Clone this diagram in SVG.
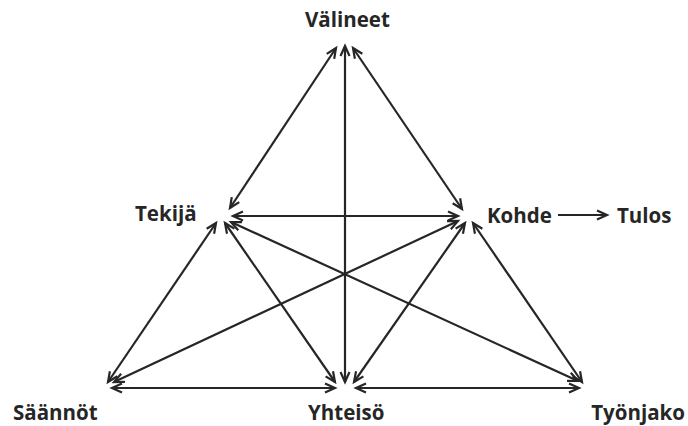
<svg xmlns="http://www.w3.org/2000/svg" width="688" height="426" viewBox="0 0 688 426">
<style>
.lbl{font-family:"Open Sans","DejaVu Sans",sans-serif;font-weight:bold;font-size:20.5px;fill:#262626}
.c line{stroke:#262626;stroke-width:2.2;fill:none;marker-start:url(#ah);marker-end:url(#ah)}
.c line.one{marker-start:none}
</style>
<defs>
<marker id="ah" markerUnits="userSpaceOnUse" markerWidth="16" markerHeight="16" viewBox="-12 -8 16 16" refX="0" refY="0" orient="auto-start-reverse">
<path d="M-10,-4.5 L0,0 L-10,4.5" fill="none" stroke="#262626" stroke-width="2.2"/>
</marker>
</defs>
<rect width="688" height="426" fill="#fff"/>
<g class="c" id="connectors">
<line x1="336" y1="48" x2="230" y2="208"/>
<line x1="353" y1="48" x2="462" y2="209"/>
<line x1="345" y1="46" x2="345" y2="382"/>
<line x1="233" y1="216" x2="458" y2="216"/>
<line x1="216" y1="223" x2="108" y2="382"/>
<line x1="225" y1="223" x2="335" y2="382"/>
<line x1="231" y1="222" x2="578" y2="381"/>
<line x1="458" y1="221" x2="114" y2="382"/>
<line x1="465" y1="223" x2="354" y2="382"/>
<line x1="473" y1="223" x2="582" y2="382"/>
<line x1="112" y1="388" x2="335" y2="388"/>
<line x1="356" y1="388" x2="579" y2="388"/>
<line class="one" x1="558" y1="215" x2="607" y2="215"/>
</g>
<g id="valineet"><text class="lbl" x="305" y="27">Välineet</text></g>
<g id="tekija"><text class="lbl" x="135" y="221">Tekijä</text></g>
<g id="kohde"><text class="lbl" x="487" y="223">Kohde</text></g>
<g id="tulos"><text class="lbl" x="617" y="223">Tulos</text></g>
<g id="saannot"><text class="lbl" x="13" y="420">Säännöt</text></g>
<g id="yhteiso"><text class="lbl" x="308" y="420">Yhteisö</text></g>
<g id="tyonjako"><text class="lbl" x="685" y="420" text-anchor="end">Työnjako</text></g>
</svg>
